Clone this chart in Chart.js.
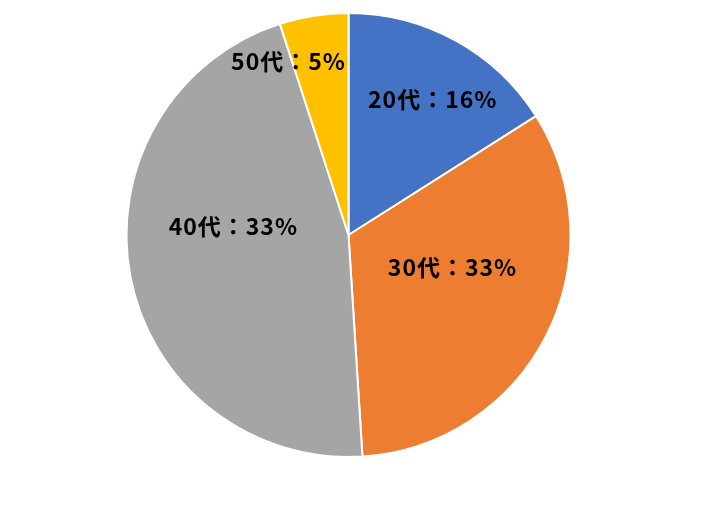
<!DOCTYPE html>
<html>
<head>
<meta charset="utf-8">
<script src="https://cdn.jsdelivr.net/npm/chart.js@4.4.1/dist/chart.umd.min.js"></script>
<style>
  html, body { margin: 0; padding: 0; background: #fff; }
  #wrap { width: 727px; height: 520px; }
</style>
</head>
<body>
<div id="wrap"><canvas id="mychart"></canvas></div>
<script>
// data
const categories = ['20代', '30代', '40代', '50代'];
const shares = [16, 33, 46, 5];            // slice sizes as drawn
const shareText = ['16%', '33%', '33%', '5%']; // label text as printed
const colors = ['#4472C4', '#ED7D31', '#A5A5A5', '#FFC000'];

// where each label sits: fraction of radius, angle shift (deg) from slice middle
const labelPlace = [
  { r: 0.72, a: 3 },
  { r: 0.49, a: -10 },
  { r: 0.52, a: 15 },
  { r: 0.83, a: -10 },
];

const sliceLabels = {
  id: 'sliceLabels',
  afterDatasetsDraw(chart) {
    const ctx = chart.ctx;
    const meta = chart.getDatasetMeta(0);
    ctx.save();
    ctx.font = '600 23px "Noto Sans CJK JP", sans-serif';
    ctx.letterSpacing = '1px';
    ctx.fillStyle = '#000';
    ctx.textAlign = 'center';
    ctx.textBaseline = 'middle';
    meta.data.forEach((arc, i) => {
      const p = arc.getProps(['x', 'y', 'startAngle', 'endAngle', 'outerRadius']);
      const mid = (p.startAngle + p.endAngle) / 2 + labelPlace[i].a * Math.PI / 180;
      const rr = p.outerRadius * labelPlace[i].r;
      ctx.fillText(categories[i] + '：' + shareText[i], p.x + Math.cos(mid) * rr, p.y + Math.sin(mid) * rr);
    });
    ctx.restore();
  }
};

const data = {
  labels: categories,
  datasets: [{
    data: shares,
    backgroundColor: colors,
    borderColor: '#fff',
    borderWidth: 2,
  }]
};

const config = {
  type: 'pie',
  data: data,
  options: {
    responsive: false,
    animation: false,
    layout: { padding: { top: 12, bottom: 62, left: 125, right: 155 } },
    plugins: {
      legend: { display: false },
      tooltip: { enabled: false },
    },
  },
  plugins: [sliceLabels],
};

const canvas = document.querySelector('#mychart');
canvas.width = 727;
canvas.height = 520;
let chart = new Chart(canvas, config);
</script>
</body>
</html>
